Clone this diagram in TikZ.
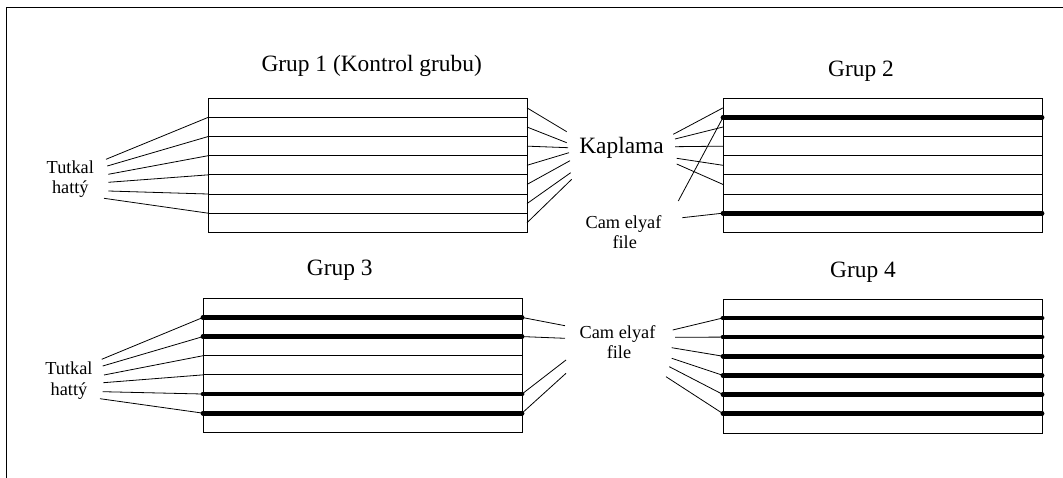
\documentclass[tikz,border=0pt]{standalone}
\usepackage{fontspec}
\setmainfont{Liberation Serif}
\begin{document}
\begin{tikzpicture}[x=1pt,y=-1pt,
  box/.style={draw, line width=0.9pt, rectangle, minimum width=319pt,
    minimum height=134pt, inner sep=0pt, anchor=north west},
  glue/.style={line width=0.9pt},
  fiber/.style={line width=4.8pt, line cap=round},
  leader/.style={line width=0.8pt},
  title/.style={font=\fontsize{23.4}{28}\selectfont, anchor=base, inner sep=0pt},
  lbl/.style={font=\fontsize{18.3}{22}\selectfont, anchor=base, inner sep=0pt},
]
\useasboundingbox (0,0) rectangle (1063,478);
% frame
\draw[line width=1pt] (6,480) -- (6,8) -- (1065,8);

% four laminated panels, seven plies each
\foreach \g/\x/\y in {1/208/98.3, 2/723/98.3, 3/203/298.3, 4/723/298.8} {
  \node[box] (g\g) at (\x,\y) {};
  \foreach \k in {1,...,6} {
    \coordinate (g\g-l\k) at (\x,{\y+\k*19.143});
    \coordinate (g\g-r\k) at ({\x+319},{\y+\k*19.143});
  }
  \foreach \k in {1,...,7} {
    \coordinate (g\g-ml\k) at (\x,{\y+(\k-0.5)*19.143});
    \coordinate (g\g-mr\k) at ({\x+319},{\y+(\k-0.5)*19.143});
  }
}

% plain glue lines
\foreach \g/\k in {1/1,1/2,1/3,1/4,1/5,1/6,2/2,2/3,2/4,2/5,3/3,3/4}
  \draw[glue] (g\g-l\k) -- (g\g-r\k);

% labels
\node[title] (t1) at (371.7,71.7) {Grup 1 (Kontrol grubu)};
\node[title] (t2) at (861,77) {Grup 2};
\node[title] (t3) at (339.7,276) {Grup 3};
\node[title] (t4) at (863,277.3) {Grup 4};
\node[title] (kap) at (621.5,153.3) {Kaplama};
\node[lbl] (tut1) at (70.3,173.3) {Tutkal};
\node[lbl] (hat1) at (70.3,193.3) {hattý};
\node[lbl] (tut3) at (69,374) {Tutkal};
\node[lbl] (hat3) at (69,395) {hattý};
\node[lbl] (cam2) at (623.5,228.3) {Cam elyaf};
\node[lbl] (fil2) at (624.7,248.3) {file};
\node[lbl] (cam3) at (617.5,338.3) {Cam elyaf};
\node[lbl] (fil3) at (619,359) {file};

% glue-line leaders
\foreach \i/\px/\py in {1/106/159.3, 2/107.3/166, 3/108.3/174.3,
                        4/108.3/182.3, 5/108.3/191, 6/104/198.3} {
  \coordinate (ta\i) at (\px,\py);
  \draw[leader] (ta\i) -- (g1-l\i);
}
\foreach \i/\px/\py in {1/101.7/359.3, 2/102.7/366, 3/104/375,
                        4/103.3/382.7, 5/102.7/391.7, 6/100/398.7} {
  \coordinate (tb\i) at (\px,\py);
  \draw[leader] (tb\i) -- (g3-l\i);
}

% veneer leaders
\foreach \i/\px/\py in {1/566.7/131.7, 2/566.7/142.7, 3/568/147.7, 4/569/152.7,
                        5/570/160.7, 6/570.7/172.7, 7/571.7/179.3} {
  \coordinate (ka\i) at (\px,\py);
  \draw[leader] (g1-mr\i) -- (ka\i);
}
\foreach \i/\px/\py in {1/673.3/134.3, 2/675/139, 3/675/146.7,
                        4/676.7/158.3, 5/676.7/164} {
  \coordinate (kb\i) at (\px,\py);
  \draw[leader] (kb\i) -- (g2-ml\i);
}

% glass fibre leaders
\foreach \i/\px/\py in {1/678.3/201, 6/682.3/217.7} {
  \coordinate (ca\i) at (\px,\py);
  \draw[leader] (ca\i) -- (g2-l\i);
}
\foreach \i/\px/\py in {1/565/325.7, 2/565/338.3, 5/566/360, 6/566/373.3} {
  \coordinate (cb\i) at (\px,\py);
  \draw[leader] (g3-r\i) -- (cb\i);
}
\foreach \i/\px/\py in {1/672.7/330, 2/675/337.3, 3/671.7/347.7,
                        4/671.7/358.3, 5/669.3/366.7, 6/666/376.7} {
  \coordinate (cc\i) at (\px,\py);
  \draw[leader] (cc\i) -- (g4-l\i);
}

% glass fibre plies
\foreach \g/\k in {2/1,2/6,3/1,3/2,3/5,3/6,4/1,4/2,4/3,4/4,4/5,4/6}
  \draw[fiber] (g\g-l\k) -- (g\g-r\k);
\end{tikzpicture}
\end{document}
